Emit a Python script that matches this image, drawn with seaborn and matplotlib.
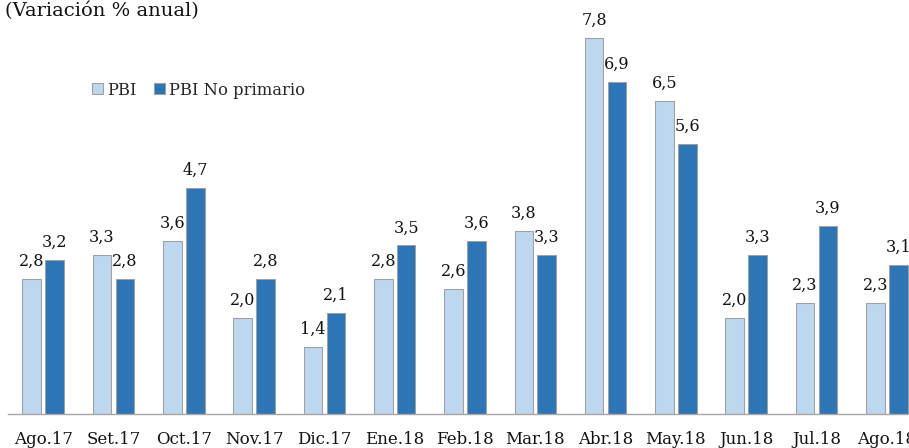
import numpy as np
import pandas as pd
import seaborn as sns
import matplotlib.pyplot as plt

meses = ["Ago.17", "Set.17", "Oct.17", "Nov.17", "Dic.17", "Ene.18", "Feb.18",
         "Mar.18", "Abr.18", "May.18", "Jun.18", "Jul.18", "Ago.18"]
pbi = [2.8, 3.3, 3.6, 2.0, 1.4, 2.8, 2.6, 3.8, 7.8, 6.5, 2.0, 2.3, 2.3]
pbi_no_primario = [3.2, 2.8, 4.7, 2.8, 2.1, 3.5, 3.6, 3.3, 6.9, 5.6, 3.3, 3.9, 3.1]
series = ["PBI", "PBI No primario"]
colores = ["#BDD7EE", "#2E75B6"]
titulo = "(Variación % anual)"

df = pd.DataFrame({
    "mes": meses * 2,
    "serie": [series[0]] * len(meses) + [series[1]] * len(meses),
    "valor": pbi + pbi_no_primario,
})

sns.set_theme(style="white")
plt.rcParams["font.family"] = ["DejaVu Serif"]

fig = plt.figure(figsize=(9.09, 4.48), dpi=100)
# axes run a little past the right edge, like the cropped original
ax = fig.add_axes([8 / 909, 34 / 448, 914 / 909, 414 / 448])

sns.barplot(data=df, x="mes", y="valor", hue="serie", palette=colores, saturation=1,
            width=0.652, gap=0.187, edgecolor="#A0A0A0", linewidth=0.75, ax=ax)

ax.set_xlim(-0.5, len(meses) - 0.5)
ax.set_ylim(0, 8.595)

for cont in ax.containers:
    etiquetas = [f"{v:.1f}".replace(".", ",") for v in cont.datavalues]
    ax.bar_label(cont, labels=etiquetas, padding=6.5, fontsize=11.5, color="#111111")

ax.set_xlabel("")
ax.set_ylabel("")
ax.set_yticks([])
for s in ["left", "right", "top"]:
    ax.spines[s].set_visible(False)
ax.spines["bottom"].set_color("#A6A6A6")
ax.spines["bottom"].set_linewidth(1.0)
ax.tick_params(axis="x", length=0, pad=12, labelsize=12, colors="#111111")

handles, labels = ax.get_legend_handles_labels()
ax.legend(handles, labels, loc="center left", bbox_to_anchor=(92 / 909, 1 - 90 / 448),
          bbox_transform=fig.transFigure, ncol=2, frameon=False,
          handlelength=0.68, handleheight=0.68, handletextpad=0.25,
          columnspacing=1.05, borderpad=0, borderaxespad=0, fontsize=11.8)

fig.text(5 / 909, 1 - 16 / 448, titulo, fontsize=14, va="baseline", ha="left", color="#111111")

fig.savefig("out.png", dpi=100)
